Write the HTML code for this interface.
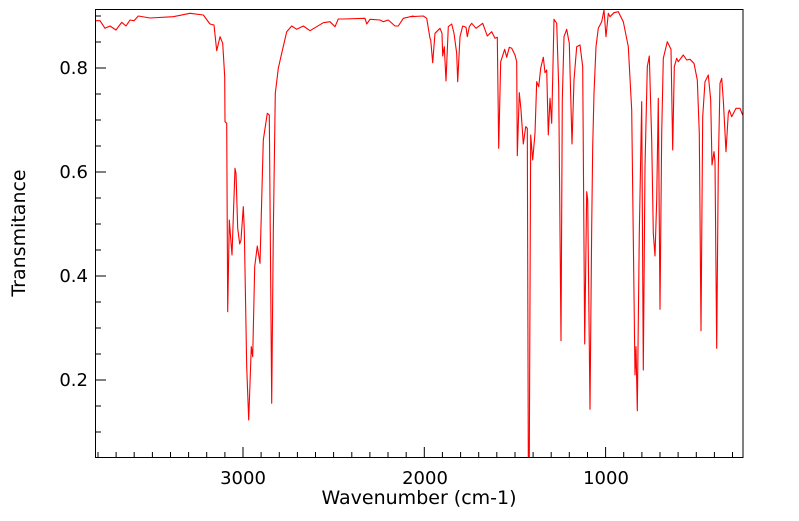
<!DOCTYPE html>
<html><head><style>
body{margin:0;background:#fff;}
svg text{font-family:"DejaVu Sans","Liberation Sans",sans-serif;font-size:18px;fill:#000;}
</style></head><body>
<svg id="s" width="799" height="516" xmlns="http://www.w3.org/2000/svg">
<rect x="0" y="0" width="799" height="516" fill="#fff"/>
<g id="ticks" stroke="#000" stroke-width="1"></g>
<polyline id="p" fill="none" stroke="#ff0000" stroke-width="1.1" stroke-linejoin="round"/>
<rect x="95.5" y="9.5" width="647.5" height="448" fill="none" stroke="#000" stroke-width="1"/>
<text x="88" y="74" text-anchor="end">0.8</text>
<text x="88" y="178" text-anchor="end">0.6</text>
<text x="88" y="282" text-anchor="end">0.4</text>
<text x="88" y="386" text-anchor="end">0.2</text>
<text x="243" y="484" text-anchor="middle">3000</text>
<text x="425" y="484" text-anchor="middle">2000</text>
<text x="606" y="484" text-anchor="middle">1000</text>
<text x="419" y="504" text-anchor="middle" style="font-size:19px">Wavenumber (cm-1)</text>
<text transform="translate(25,233) rotate(-90)" text-anchor="middle" style="font-size:19px">Transmitance</text>
</svg>
<script>
var a=[[15,62],[30,62],[45,85],[60,78],[78,90],[95,67],[108,78],[120,60],[132,62],[145,48],[180,54],[250,50],[300,40],[340,45],[360,72],[372,75],[380,152],[390,110],[398,130],[404,230],[405,365],[410,370],[413,935],[418,660],[421,700],[426,765],[435,505],[438,520],[443,685],[449,732],[453,720],[460,620],[463,690],[470,1100],[476,1260],[484,1040],[488,1070],[494,800],[502,738],[510,790],[520,420],[532,340],[538,345],[545,1210],[550,700],[556,280],[565,205],[575,160],[590,95],[605,78],[620,88],[640,78],[660,92],[680,80],[700,68],[720,65],[735,80],[745,57],[760,57],[825,55],[830,72],[840,58],[870,60],[880,65],[895,60],[915,78],[925,78],[940,55],[970,48]];
var b=[[0,50],[40,48],[50,55],[60,115],[62,120],[68,188],[75,100],[90,85],[96,100],[98,168],[103,140],[108,243],[115,80],[125,72],[132,100],[140,160],[143,245],[150,110],[158,78],[168,82],[172,110],[178,80],[185,70],[198,85],[218,70],[232,108],[245,95],[255,115],[262,112],[266,445],[272,185],[284,148],[290,172],[298,142],[305,145],[315,165],[320,185],[322,467],[328,278],[333,330],[340,432],[347,380],[352,385],[355,1370],[358,1370],[362,405],[368,480],[375,400],[380,245],[386,260],[392,205],[400,172],[405,218],[410,210],[415,405],[420,295],[425,370],[432,58],[440,70],[446,260],[453,1022],[457,300],[462,110],[470,88],[478,130],[486,432],[492,240],[500,140],[510,135],[518,200],[524,1032],[530,575],[533,600],[540,1228],[545,680],[548,440],[552,280],[558,140],[565,85],[575,65],[582,30],[588,110],[595,40],[600,50],[612,38],[625,35],[640,65],[655,140],[665,330],[675,1125],[678,1040],[682,1232],[688,700],[695,305],[700,1110],[705,500],[712,200],[718,168],[725,420],[730,700],[735,768],[740,600],[745,295],[750,928],[755,400],[760,175],[772,125],[783,148],[788,450],[793,200],[800,175],[805,185],[820,165],[830,180],[840,178],[852,190],[862,240],[868,400],[873,992],[878,350],[885,245],[895,225],[902,300],[906,495],[912,455],[915,485],[920,1045],[925,500],[930,250],[935,235],[940,300],[948,455],[955,340],[958,330],[965,350],[978,325],[990,325],[998,345]];
var pts=[];
a.forEach(function(p){pts.push((90+p[0]/3).toFixed(1)+','+(p[1]/3).toFixed(1));});
b.forEach(function(p){var y=Math.min(p[1]/3,457.5);pts.push((410+p[0]/3).toFixed(1)+','+y.toFixed(1));});
document.getElementById('p').setAttribute('points',pts.join(' '));
var g=document.getElementById('ticks'),h='';
for(var w=3800;w>=250;w-=100){var x=243+(3000-w)*0.1813;if(x<96||x>742)continue;var L=(w%1000==0)?10:5;h+='<line x1="'+x.toFixed(1)+'" y1="457" x2="'+x.toFixed(1)+'" y2="'+(457-L)+'"/>';}
for(var i=0;i<18;i++){var v=0.05+i*0.05;var y=68+(0.8-v)*520;if(y<11||y>456)continue;var maj=Math.abs((v*10)%2)<0.01||Math.abs((v*10)%2-2)<0.01;var L=maj?10:5;h+='<line x1="96" y1="'+y.toFixed(1)+'" x2="'+(96+L)+'" y2="'+y.toFixed(1)+'"/>';}
g.innerHTML=h;
</script>
</body></html>
